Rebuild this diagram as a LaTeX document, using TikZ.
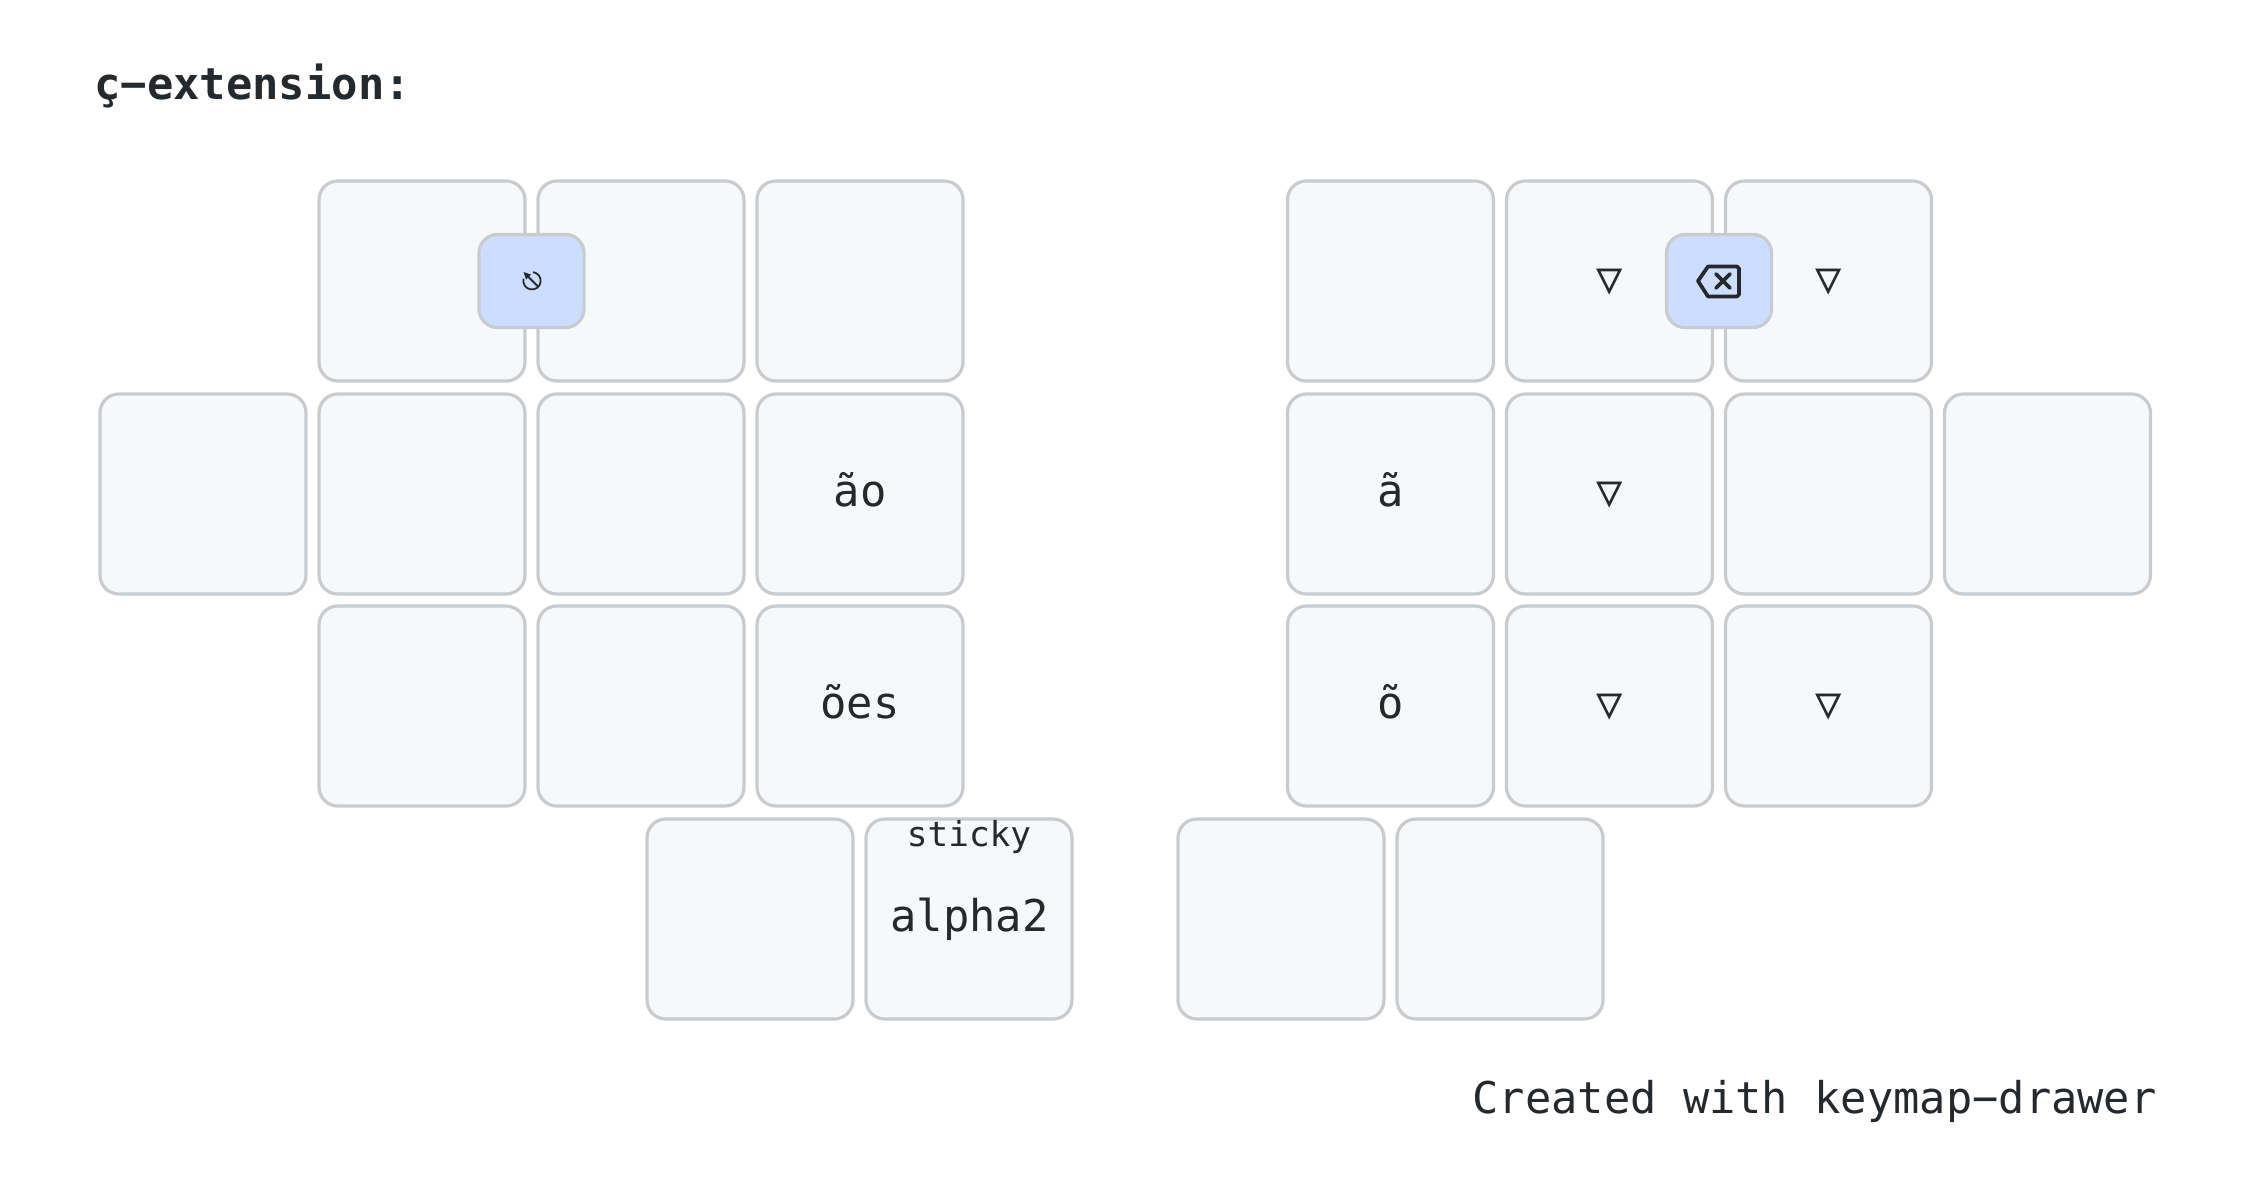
\documentclass[tikz,border=0pt]{standalone}
\usepackage{fontspec}
\setmainfont{DejaVu Sans Mono}
\definecolor{keyfill}{HTML}{F6F8FA}
\definecolor{keyline}{HTML}{C9CCCF}
\definecolor{combofill}{HTML}{CCDDFF}
\definecolor{ink}{HTML}{24292E}
\tikzset{
  keybox/.style={draw=keyline,fill=keyfill,line width=1.6pt,rounded corners=9.4pt,
    minimum width=103pt,minimum height=100pt,inner sep=0pt,outer sep=0pt},
  combobox/.style={draw=keyline,fill=combofill,line width=1.6pt,rounded corners=9.4pt,
    minimum width=52.6pt,minimum height=46.6pt,inner sep=0pt,outer sep=0pt},
  tap/.style={text=ink,anchor=base,inner sep=0pt,font=\fontsize{21.9pt}{26pt}\selectfont},
  holdtxt/.style={text=ink,anchor=base,inner sep=0pt,font=\fontsize{17.2pt}{20pt}\selectfont},
  titletxt/.style={text=ink,anchor=base west,inner sep=0pt,font=\fontsize{21.9pt}{26pt}\selectfont\bfseries},
  foot/.style={text=ink,anchor=base east,inner sep=0pt,font=\fontsize{21.85pt}{26pt}\selectfont},
  iconline/.style={draw=ink,line width=1.85pt,line cap=round,line join=round},
  thinicon/.style={draw=ink,line width=0.9pt,line cap=round,line join=round},
}
\begin{document}
\begin{tikzpicture}[x=0.5pt,y=-0.5pt]
\useasboundingbox (0,0) rectangle (2250,1200);
\fill[white] (0,0) rectangle (2250,1200);
\node[titletxt] (title) at (94,99.5) {ç−extension:};
% left hand
\node[keybox] (a1) at (422,281) {};
\node[keybox] (a2) at (641,281) {};
\node[keybox] (a3) at (860,281) {};
\node[keybox] (b0) at (203,494) {};
\node[keybox] (b1) at (422,494) {};
\node[keybox] (b2) at (641,494) {};
\node[keybox] (b3) at (860,494) {};
\node[keybox] (c1) at (422,706) {};
\node[keybox] (c2) at (641,706) {};
\node[keybox] (c3) at (860,706) {};
\node[keybox] (t1) at (750,919) {};
\node[keybox] (t2) at (969,919) {};
% right hand
\node[keybox] (d1) at (1390.5,281) {};
\node[keybox] (d2) at (1609.5,281) {};
\node[keybox] (d3) at (1828.5,281) {};
\node[keybox] (e1) at (1390.5,494) {};
\node[keybox] (e2) at (1609.5,494) {};
\node[keybox] (e3) at (1828.5,494) {};
\node[keybox] (e4) at (2047.5,494) {};
\node[keybox] (f1) at (1390.5,706) {};
\node[keybox] (f2) at (1609.5,706) {};
\node[keybox] (f3) at (1828.5,706) {};
\node[keybox] (u1) at (1281,919) {};
\node[keybox] (u2) at (1500,919) {};
% labels
\node[tap] (lb3) at (860,506) {ão};
\node[tap] (lc3) at (860,718) {ões};
\node[tap] (lt2) at (969.5,931) {alpha2};
\node[holdtxt] (lt2h) at (969,846) {sticky};
\node[tap] (le1) at (1391,506) {ã};
\node[tap] (lf1) at (1391,718) {õ};
\node[tap] (ld2) at (1610,293) {▽};
\node[tap] (ld3) at (1829,293) {▽};
\node[tap] (le2) at (1610,506) {▽};
\node[tap] (lf2) at (1610,718) {▽};
\node[tap] (lf3) at (1829,718) {▽};
% combos
\node[combobox] (c-left) at (531.5,281) {};
\node[combobox] (c-right) at (1719,281) {};
% escape icon (broken circle with north-west arrow)
\draw[thinicon] (533.5,272.2) arc[start angle=80,end angle=-190,radius=4.35pt];
\draw[thinicon] (537.5,286) -- (527,275.5);
\fill[ink] (523.5,272) -- (531,274.5) -- (526,279.5) -- cycle;
% backspace icon
\draw[iconline] (1698,281) -- (1708,266.5) -- (1737,266.5) -- (1739,268.5) -- (1739,294.5) -- (1737,296.5) -- (1708,296.5) -- cycle;
\draw[iconline] (1716,274) -- (1730,288);
\draw[iconline] (1730,274) -- (1716,288);
\node[foot] (credit) at (2157,1113) {Created with keymap−drawer};
\end{tikzpicture}
\end{document}
